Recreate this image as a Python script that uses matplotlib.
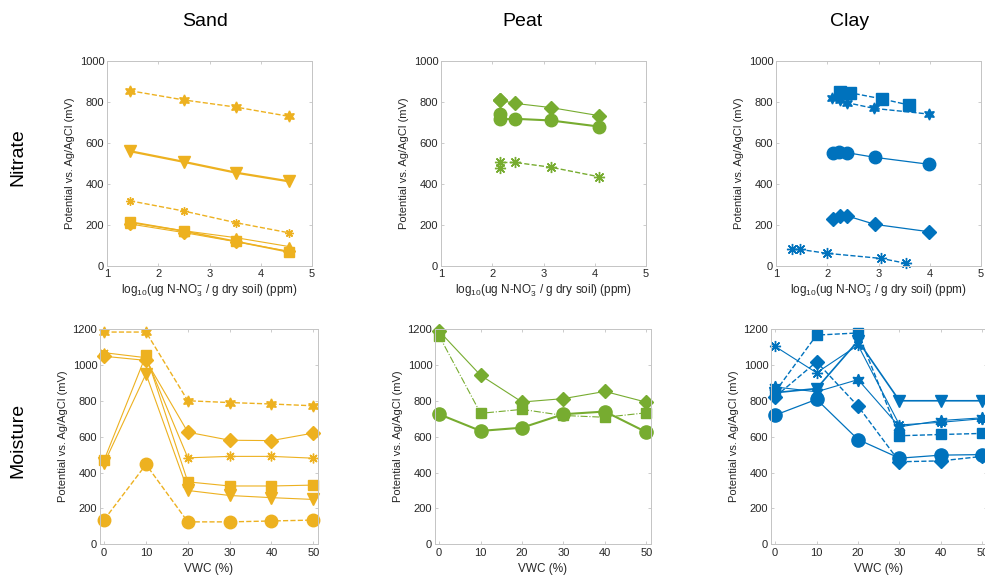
import matplotlib
matplotlib.use("Agg")
import matplotlib.pyplot as plt

plt.rcParams['font.family'] = ['Liberation Sans', 'DejaVu Sans']
plt.rcParams['mathtext.fontset'] = 'custom'
plt.rcParams['mathtext.rm'] = 'Liberation Sans'
plt.rcParams['mathtext.it'] = 'Liberation Sans:italic'

SAND = '#EDB120'
PEAT = '#77AC30'
CLAY = '#0072BD'
HEXAGRAM = (6, 1, 0)
ASTERISK = (8, 2, 0)

# nitrate panels: x = log10 concentration, y = potential (mV)
sand_no3_x = [1.45, 2.5, 3.52, 4.55]
sand_no3_hex = [855, 810, 775, 730]
sand_no3_tri = [560, 508, 455, 413]
sand_no3_ast = [318, 268, 211, 162]
sand_no3_sq = [215, 170, 120, 68]
sand_no3_utri = [212, 172, 138, 95]
sand_no3_dia = [205, 163, 118, 72]

peat_no3_x = [2.16, 2.16, 2.45, 3.14, 4.09]
peat_no3_dia = [808, 808, 793, 773, 733]
peat_no3_circ = [740, 715, 718, 710, 680]
peat_no3_ast = [478, 505, 505, 482, 435]

clay_sq_x = [2.25, 2.45, 3.07, 3.6]
clay_sq_y = [850, 845, 815, 785]
clay_hex_x = [2.09, 2.24, 2.38, 2.91, 3.99]
clay_hex_y = [818, 810, 797, 769, 741]
clay_circ_x = [2.12, 2.22, 2.38, 2.93, 3.99]
clay_circ_y = [550, 556, 553, 530, 496]
clay_dia_x = [2.12, 2.24, 2.38, 2.93, 3.99]
clay_dia_y = [229, 245, 245, 203, 167]
clay_ast_x = [1.31, 1.46, 1.99, 3.05, 3.54]
clay_ast_y = [81, 81, 62, 37, 13]

# moisture panels
vwc = [0, 10, 20, 30, 40, 50]
sand_m_hex = [1183, 1183, 800, 790, 782, 772]
sand_m_dia = [1048, 1025, 625, 580, 578, 620]
sand_m_ast = [1068, 1040, 482, 490, 490, 480]
sand_m_sq = [470, 1055, 348, 325, 325, 330]
sand_m_tri = [452, 950, 300, 272, 260, 250]
sand_m_circ = [137, 445, 125, 125, 130, 135]

peat_m_dia = [1188, 942, 793, 812, 852, 792]
peat_m_sq = [1162, 730, 752, 718, 708, 733]
peat_m_circ = [725, 632, 650, 725, 740, 625]

clay_m_ast = [1103, 956, 1110, 665, 680, 700]
clay_m_sq = [850, 1166, 1178, 605, 612, 618]
clay_m_dia = [822, 1017, 770, 460, 465, 490]
clay_m_tri = [845, 868, 1134, 800, 800, 800]
clay_m_hex = [877, 850, 918, 655, 690, 705]
clay_m_circ = [720, 808, 584, 480, 497, 500]

ylab = 'Potential vs. Ag/AgCl (mV)'
no3_lab = r'log$_{10}$(ug N-NO$_3^{-}$ / g dry soil) (ppm)'


def style_axes(ax):
    for s in ax.spines.values():
        s.set_color('#c4c4c4')
        s.set_linewidth(0.7)
    ax.tick_params(direction='in', length=2.5, width=0.6, color='#c4c4c4',
                   labelcolor='#262626', labelsize=8, top=True, right=True,
                   pad=2)
    ax.set_ylabel(ylab, fontsize=8, color='#262626', labelpad=3)


def line(ax, x, y, c, m, ls='-', lw=0.8, ms=7):
    if m == ASTERISK:
        ax.plot(x, y, color=c, ls=ls, lw=lw, marker=m, ms=ms, mew=1.0,
                clip_on=False)
    else:
        ax.plot(x, y, color=c, ls=ls, lw=lw, marker=m, ms=ms, mfc=c, mec=c,
                clip_on=False)


fig = plt.figure(figsize=(9.85, 5.75), dpi=100)
W, H = 985.0, 575.0


def add(left, top, width, height):
    return fig.add_axes([left / W, 1 - (top + height) / H, width / W, height / H])


top_axes = [add(107, 61, 205, 205), add(441, 61, 205, 205), add(776, 61, 205, 205)]
bot_axes = [add(100, 329, 217.5, 215.3), add(435, 329, 215.5, 215.3),
            add(771, 329, 215.5, 215.3)]

a = top_axes[0]
line(a, sand_no3_x, sand_no3_hex, SAND, HEXAGRAM, '--', 1.0, 8)
line(a, sand_no3_x, sand_no3_tri, SAND, 'v', '-', 1.6, 9)
line(a, sand_no3_x, sand_no3_ast, SAND, ASTERISK, '--', 1.0, 6)
line(a, sand_no3_x, sand_no3_dia, SAND, 'D', '-', 0.8, 6.5)
line(a, sand_no3_x, sand_no3_utri, SAND, '^', '-', 0.8, 7.5)
line(a, sand_no3_x, sand_no3_sq, SAND, 's', '-', 1.2, 7)

a = top_axes[1]
line(a, peat_no3_x, peat_no3_dia, PEAT, 'D', '-', 0.8, 7)
line(a, peat_no3_x, peat_no3_circ, PEAT, 'o', '-', 1.5, 9)
line(a, peat_no3_x, peat_no3_ast, PEAT, ASTERISK, '--', 1.0, 8)

a = top_axes[2]
line(a, clay_sq_x, clay_sq_y, CLAY, 's', '--', 1.0, 8)
line(a, clay_hex_x, clay_hex_y, CLAY, HEXAGRAM, '--', 1.0, 8)
line(a, clay_circ_x, clay_circ_y, CLAY, 'o', '-', 0.9, 9)
line(a, clay_dia_x, clay_dia_y, CLAY, 'D', '-', 0.9, 7)
line(a, clay_ast_x, clay_ast_y, CLAY, ASTERISK, '--', 1.0, 8)

for a in top_axes:
    a.set_xlim(1, 5)
    a.set_ylim(0, 1000)
    a.set_xticks([1, 2, 3, 4, 5])
    a.set_yticks([0, 200, 400, 600, 800, 1000])
    style_axes(a)
    a.set_xlabel(no3_lab, fontsize=8.5, color='#262626', labelpad=3)

a = bot_axes[0]
line(a, vwc, sand_m_hex, SAND, HEXAGRAM, '--', 1.0, 8)
line(a, vwc, sand_m_ast, SAND, ASTERISK, '-', 0.8, 7)
line(a, vwc, sand_m_dia, SAND, 'D', '-', 0.8, 7.5)
line(a, vwc, sand_m_sq, SAND, 's', '-', 0.8, 7)
line(a, vwc, sand_m_tri, SAND, 'v', '-', 0.8, 9)
line(a, vwc, sand_m_circ, SAND, 'o', '--', 1.0, 9)

a = bot_axes[1]
line(a, vwc, peat_m_dia, PEAT, 'D', '-', 0.8, 7.5)
line(a, vwc, peat_m_sq, PEAT, 's', '-.', 0.8, 7)
line(a, vwc, peat_m_circ, PEAT, 'o', '-', 1.5, 9.5)

a = bot_axes[2]
line(a, vwc, clay_m_ast, CLAY, ASTERISK, '-', 0.8, 8)
line(a, vwc, clay_m_sq, CLAY, 's', '--', 1.0, 7.5)
line(a, vwc, clay_m_dia, CLAY, 'D', '--', 1.0, 7.5)
line(a, vwc, clay_m_tri, CLAY, 'v', '-', 1.2, 9)
line(a, vwc, clay_m_hex, CLAY, HEXAGRAM, '-', 0.8, 9)
line(a, vwc, clay_m_circ, CLAY, 'o', '-', 0.9, 9.5)

for a in bot_axes:
    a.set_xlim(-1, 51)
    a.set_ylim(0, 1200)
    a.set_xticks(vwc)
    a.set_yticks([0, 200, 400, 600, 800, 1000, 1200])
    style_axes(a)
    a.tick_params(axis='x', pad=3)
    a.set_xlabel('VWC (%)', fontsize=8.5, color='#262626', labelpad=3)

for x, name in [(205, 'Sand'), (523, 'Peat'), (850, 'Clay')]:
    fig.text(x / W, 1 - 22 / H, name, ha='center', va='center', fontsize=14)
fig.text(18 / W, 1 - 157 / H, 'Nitrate', rotation=90, ha='center',
         va='center', fontsize=14)
fig.text(18 / W, 1 - 440 / H, 'Moisture', rotation=90, ha='center',
         va='center', fontsize=14)

fig.savefig('out.png', dpi=100)
